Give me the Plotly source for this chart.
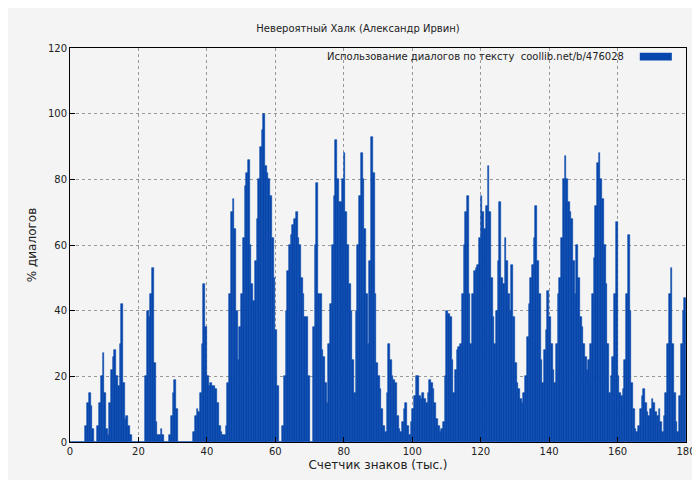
import plotly.graph_objects as go

step = 0.5
values = [
 0,0,0,0,0,0,0,0,0,5, 12,15,11,4,0,0,5,12,20,27,
 15,4,2,12,22,26,28,20,17,30, 42,18,7,8,5,2,0,0,0,0,
 0,0,0,0,20,40,38,45,53,24, 6,2,2,4,2,0,0,0,2,8,
 15,19,10,0,0,0,0,0,0,0, 0,0,3,8,10,9,15,30,48,35,
 20,17,18,17,17,16,12,5,3,2, 2,5,18,45,70,74,65,40,25,35,
 45,62,78,82,86,60,48,43,55,68, 80,90,95,100,84,82,80,75,62,50,
 34,17,0,0,5,20,40,52,60,63, 66,68,70,62,60,50,45,38,38,20,
 0,0,35,60,79,45,45,28,26,18, 12,30,42,60,75,92,80,73,73,80,
 88,70,60,48,40,25,15,40,60,75, 88,80,65,45,30,55,93,82,45,24,
 20,16,10,5,3,15,30,25,20,19, 18,8,4,3,6,10,12,5,2,6,
 10,14,20,20,14,13,15,13,12,15, 19,18,16,12,7,5,3,4,6,20,
 40,39,38,25,15,22,28,29,30,45, 60,70,75,45,30,45,52,53,54,62,
 75,70,65,72,84,70,50,38,30,40, 55,73,50,48,62,55,45,40,54,38,
 24,18,16,13,12,15,20,32,42,50, 54,62,72,55,45,25,18,28,34,46,
 38,30,22,18,30,45,50,62,80,87, 80,73,70,68,55,45,60,50,38,35,
 30,26,22,25,30,45,56,72,85,88, 80,74,60,48,30,15,20,26,45,67,
 20,15,14,16,25,45,63,40,18,10, 4,3,5,10,14,16,12,9,8,10,
 13,12,9,8,10,6,3,8,15,30, 45,53,30,15,6,3,14,30,40,44,
]
legend_text = "Использование диалогов по тексту  coollib.net/b/476028"
x = [i*step + step/2 for i in range(len(values))]

BLUE = "#0747ad"
fig = go.Figure(go.Bar(x=x, y=values, width=step,
                       marker=dict(color=BLUE, line=dict(width=0.6, color=BLUE)),
                       showlegend=False))
fig.update_layout(
    width=700, height=480, paper_bgcolor="#f4f4f4", plot_bgcolor="#f4f4f4",
    margin=dict(l=62, r=22, t=40, b=46, autoexpand=False), bargap=0,
    title=dict(text="Невероятный Халк (Александр Ирвин)", x=0.5, y=0.965, xanchor="center",
               font=dict(family="DejaVu Sans", size=10, color="#222")),
    font=dict(family="DejaVu Sans", size=10, color="#222"),
    annotations=[dict(text=legend_text, xref="paper", yref="paper", x=0.903, y=0.978,
                      xanchor="right", yanchor="middle", showarrow=False,
                      font=dict(size=10, color="#222"))],
    shapes=[dict(type="rect", xref="paper", yref="paper", x0=0.925, x1=0.977,
                 y0=0.968, y1=0.988, fillcolor=BLUE, line=dict(width=0))],
)
ax = dict(showline=True, linecolor="black", linewidth=1, mirror=True, ticks="inside",
          ticklen=5, tickcolor="black", gridcolor="#999", griddash="dot", zeroline=False,
          automargin=False)
fig.update_xaxes(range=[0,180], dtick=20, title=dict(text="Счетчик знаков (тыс.)", standoff=4), **ax)
fig.update_yaxes(range=[0,120], dtick=20, title=dict(text="% диалогов", standoff=8), **ax)
fig.write_html("out.html")
